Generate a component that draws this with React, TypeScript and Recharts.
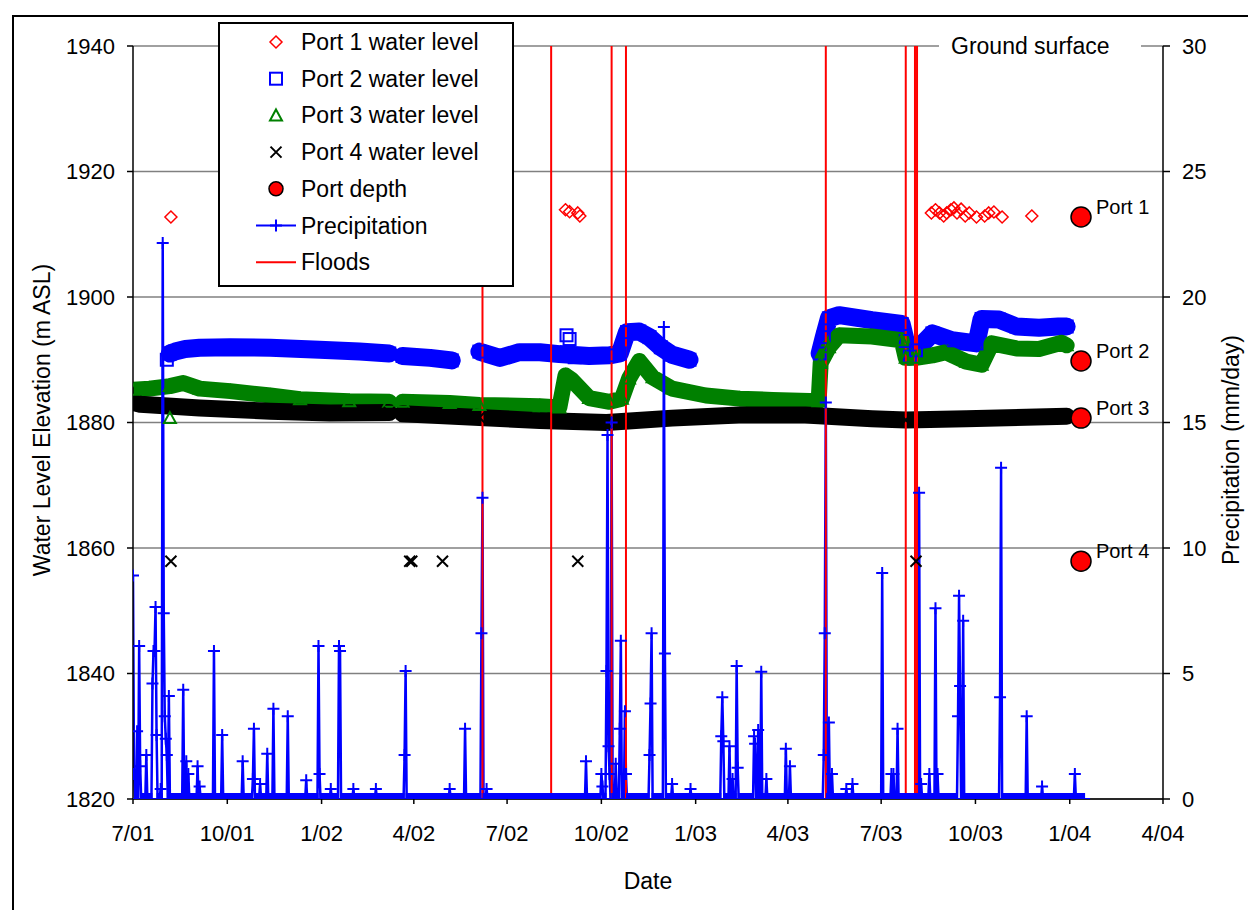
import React from 'react';
import { ComposedChart, Line, Scatter, XAxis, YAxis, CartesianGrid, ReferenceLine } from 'recharts';

// x values are days since 1 July 2001
const TICK_LABELS = ['7/01', '10/01', '1/02', '4/02', '7/02', '10/02', '1/03', '4/03', '7/03', '10/03', '1/04', '4/04'];
const TICK_DAYS = [0, 92, 184, 274, 365, 457, 549, 639, 730, 822, 914, 1005];
const ELEV_TICKS = [1820, 1840, 1860, 1880, 1900, 1920, 1940];
const PRECIP_TICKS = [0, 5, 10, 15, 20, 25, 30];

// Port 1 water level (m ASL), scattered readings
const PORT1_DAYS = [37, 422, 426, 434, 436, 779, 783, 787, 791, 794, 798, 801, 804, 808, 812, 816, 823, 831, 835, 840, 848, 877];
const PORT1_LEVEL = [1912.75, 1913.9, 1913.6, 1913.4, 1912.9, 1913.4, 1913.9, 1913.4, 1912.9, 1913.4, 1913.9, 1914.2, 1913.4, 1914.0, 1912.9, 1913.4, 1912.75, 1912.9, 1913.4, 1913.55, 1912.75, 1912.9];

// Port 2 water level, null = gap in the record
const PORT2_DAYS = [36, 41, 51, 65, 95, 134, 182, 221, 250, 256, 263, 290, 311, 325, 338, 358, 377, 397, 416, 445, 465, 475, 482, 494, 504, 515, 526, 543, 600, 670, 674, 679, 689, 721, 750, 754, 758, 764, 780, 799, 823, 828, 845, 862, 884, 903, 911];
const PORT2_LEVEL = [1891.0, 1891.3, 1891.7, 1891.9, 1892.0, 1891.9, 1891.6, 1891.3, 1891.0, null, 1890.6, 1890.3, 1889.9, null, 1891.3, 1890.3, 1891.2, 1891.2, 1890.9, 1890.6, 1890.7, 1891.0, 1894.4, 1894.5, 1893.6, 1892.0, 1890.8, 1890.0, null, 1891.0, 1893.6, 1896.6, 1897.1, 1896.3, 1895.7, 1893.0, 1890.5, 1891.5, 1894.2, 1893.1, 1892.6, 1896.5, 1896.4, 1895.3, 1895.1, 1895.3, 1895.3];
const PORT2_SPOT_DAYS = [33, 423, 426, 431];
const PORT2_SPOT_LEVEL = [1890.0, 1893.9, 1893.3, 1890.4];

// Port 3 water level
const PORT3_DAYS = [0, 16, 36, 49, 65, 95, 134, 163, 211, 250, 256, 263, 309, 338, 397, 416, 422, 428, 445, 465, 477, 484, 494, 507, 526, 559, 592, 624, 669, 671, 679, 689, 721, 750, 754, 764, 780, 793, 813, 828, 838, 862, 884, 906, 911];
const PORT3_LEVEL = [1885.2, 1885.4, 1885.8, 1886.3, 1885.4, 1885.0, 1884.3, 1883.7, 1883.4, 1883.3, null, 1883.3, 1883.1, 1882.8, 1882.6, 1882.4, 1887.5, 1886.8, 1883.9, 1883.3, 1883.8, 1887.0, 1889.8, 1887.2, 1885.4, 1884.3, 1883.8, 1883.6, 1883.4, 1889.5, 1892.0, 1893.9, 1893.7, 1893.1, 1890.3, 1890.3, 1890.7, 1891.2, 1889.7, 1889.2, 1892.6, 1891.8, 1891.7, 1892.7, 1892.3];
const PORT3_SPOT_DAYS = [36];
const PORT3_SPOT_LEVEL = [1880.7];

// Port 4 water level
const PORT4_DAYS = [0, 7, 65, 134, 192, 250, 256, 263, 338, 397, 462, 526, 591, 656, 721, 754, 813, 911];
const PORT4_LEVEL = [1883.2, 1882.9, 1882.3, 1881.8, 1881.5, 1881.6, null, 1881.4, 1880.8, 1880.3, 1880.0, 1880.7, 1881.2, 1881.2, 1880.6, 1880.4, 1880.6, 1881.0];
const PORT4_SPOT_DAYS = [37, 270, 272, 302, 434, 764];
const PORT4_SPOT_LEVEL = [1857.9, 1857.9, 1857.9, 1857.9, 1857.9, 1857.9];

// Port depths
const PORT_NAMES = ['Port 1', 'Port 2', 'Port 3', 'Port 4'];
const PORT_DEPTH = [1912.75, 1889.8, 1880.7, 1857.9];
const PORT_DEPTH_DAY = 925;

// Daily precipitation (mm/day): days with rain; every other day of the record is 0
const RAIN_DAYS = [0, 1, 4, 6, 7, 13, 19, 20, 21, 22, 23, 27, 29, 30, 31, 32, 33, 35, 49, 52, 54, 63, 65, 79, 87, 107, 117, 118, 124, 131, 137, 151, 169, 181, 182, 193, 201, 202, 215, 237, 265, 266, 309, 324, 340, 341, 345, 442, 457, 458, 462, 463, 464, 465, 467, 471, 475, 476, 480, 481, 504, 505, 506, 518, 519, 526, 544, 574, 575, 576, 582, 585, 589, 590, 606, 607, 610, 613, 618, 637, 641, 674, 675, 676, 679, 682, 696, 702, 731, 740, 742, 746, 767, 769, 777, 783, 785, 805, 806, 807, 810, 846, 847, 872, 887, 919];
const RAIN_MM = [8.9, 1.0, 2.7, 6.1, 1.3, 1.75, 4.6, 5.9, 5.9, 7.65, 2.55, 0.4, 22.15, 7.4, 3.3, 2.4, 1.75, 4.1, 4.35, 1.5, 1.0, 1.3, 0.5, 5.9, 2.55, 1.5, 0.8, 2.8, 0.6, 1.8, 3.6, 3.3, 0.75, 6.1, 1.0, 0.4, 6.1, 5.9, 0.4, 0.4, 1.75, 5.1, 0.4, 2.8, 6.6, 12.0, 0.4, 1.5, 1.0, 0.5, 5.1, 14.5, 2.1, 1.0, 15.0, 1.4, 2.8, 6.3, 3.5, 1.0, 1.75, 3.8, 6.6, 18.8, 5.8, 0.6, 0.4, 2.5, 4.05, 2.3, 2.1, 0.8, 5.3, 1.25, 2.5, 2.2, 2.75, 5.07, 0.8, 2.0, 1.3, 1.75, 6.6, 15.8, 3.05, 1.0, 0.4, 0.6, 9.0, 1.0, 1.0, 2.8, 12.2, 0.6, 1.0, 7.6, 1.0, 3.3, 8.1, 4.5, 7.1, 4.05, 13.2, 3.3, 0.5, 1.0];
const PRECIP_LAST_DAY = 928;

// Flood dates
const FLOOD_DAYS = [341, 408, 467, 481, 676, 754, 763, 765];

const FONT = '"Liberation Sans", Arial, sans-serif';
const BLUE = '#0000FF';
const GREEN = '#008000';
const RED = '#FF0000';

const toRows = (days: number[], levels: (number | null)[]) => days.map((d, i) => ({ day: d, level: levels[i] }));

const port1Data = toRows(PORT1_DAYS, PORT1_LEVEL);
const port2Data = toRows(PORT2_DAYS, PORT2_LEVEL);
const port2Spots = toRows(PORT2_SPOT_DAYS, PORT2_SPOT_LEVEL);
const port3Data = toRows(PORT3_DAYS, PORT3_LEVEL);
const port3Spots = toRows(PORT3_SPOT_DAYS, PORT3_SPOT_LEVEL);
const port4Data = toRows(PORT4_DAYS, PORT4_LEVEL);
const port4Spots = toRows(PORT4_SPOT_DAYS, PORT4_SPOT_LEVEL);
const depthData = PORT_NAMES.map((name, i) => ({ day: PORT_DEPTH_DAY, level: PORT_DEPTH[i], name }));
const precipData = [];
for (let d = 0; d <= PRECIP_LAST_DAY; d++) {
    const i = RAIN_DAYS.indexOf(d);
    precipData.push({ day: d, mm: i >= 0 ? RAIN_MM[i] : 0 });
}

// marker shapes
const Diamond = ({ cx, cy }: any) => (
    <path d={`M${cx},${cy - 6}L${cx + 6},${cy}L${cx},${cy + 6}L${cx - 6},${cy}Z`} fill="none" stroke={RED} strokeWidth={1.5} />
);
const Square = ({ cx, cy }: any) => (
    <rect x={cx - 6} y={cy - 6} width={12} height={12} fill="none" stroke={BLUE} strokeWidth={2} />
);
const Triangle = ({ cx, cy }: any) => (
    <path d={`M${cx},${cy - 6}L${cx + 6},${cy + 5}L${cx - 6},${cy + 5}Z`} fill="none" stroke={GREEN} strokeWidth={2} />
);
const Cross = ({ cx, cy }: any) => (
    <path d={`M${cx - 5.5},${cy - 5.5}L${cx + 5.5},${cy + 5.5}M${cx - 5.5},${cy + 5.5}L${cx + 5.5},${cy - 5.5}`} stroke="#000" strokeWidth={2} />
);
const Plus = ({ cx, cy }: any) => (
    <path d={`M${cx - 6},${cy}L${cx + 6},${cy}M${cx},${cy - 6}L${cx},${cy + 6}`} stroke={BLUE} strokeWidth={2} />
);
const Dot = ({ cx, cy }: any) => <circle cx={cx} cy={cy} r={10} fill={RED} stroke="#000" strokeWidth={1.5} />;

const dotWith = (Shape: any) => (p: any) =>
    p.cx == null || p.cy == null || p.value == null
        ? <g key={`e-${p.index}`} />
        : <g key={`m-${p.index}`}><Shape cx={p.cx} cy={p.cy} /></g>;

const DepthShape = (p: any) => (
    <g>
        <Dot cx={p.cx} cy={p.cy} />
        <text x={p.cx + 15} y={p.cy - 3} fontSize={20} fontFamily={FONT} fill="#000">{p.payload.name}</text>
    </g>
);

const GroundLabel = (p: any) => {
    const vb = p.viewBox;
    const right = vb.x + vb.width;
    return (
        <g>
            <rect x={right - 224} y={vb.y - 12} width={202} height={24} fill="#fff" />
            <text x={right - 212} y={vb.y + 8} fontSize={23} fontFamily={FONT} fill="#000">Ground surface</text>
        </g>
    );
};

const LEGEND_ROWS = [
    { label: 'Port 1 water level', Shape: Diamond },
    { label: 'Port 2 water level', Shape: Square },
    { label: 'Port 3 water level', Shape: Triangle },
    { label: 'Port 4 water level', Shape: Cross },
    { label: 'Port depth', Shape: Dot },
    { label: 'Precipitation', Shape: Plus, line: BLUE },
    { label: 'Floods', line: RED },
];

const ChartLegend = () => (
    <svg width={296} height={265} style={{ position: 'absolute', left: 218, top: 22 }}>
        <rect x={1} y={1} width={294} height={263} fill="#fff" stroke="#000" strokeWidth={2} />
        {LEGEND_ROWS.map((r, i) => {
            const cy = 20 + i * 36.7;
            return (
                <g key={r.label}>
                    {r.line && <line x1={38} x2={78} y1={cy} y2={cy} stroke={r.line} strokeWidth={2} />}
                    {r.Shape && (r.Shape === Dot
                        ? <circle cx={58} cy={cy} r={7} fill={RED} stroke="#000" strokeWidth={1.5} />
                        : <r.Shape cx={58} cy={cy} />)}
                    <text x={83} y={cy + 8} fontSize={23} fontFamily={FONT} fill="#000">{r.label}</text>
                </g>
            );
        })}
    </svg>
);

export default function App() {
    const tick = { fontSize: 22, fill: '#000', fontFamily: FONT };
    return (
        <div style={{ position: 'absolute', left: 0, top: 0, width: 1248, height: 910, background: '#fff', overflow: 'hidden', fontFamily: FONT }}>
            <div style={{ position: 'absolute', left: 12, top: 15, width: 1300, height: 1000, border: '2px solid #000' }} />
            <div style={{ position: 'absolute', left: 0, top: 0 }}>
                <ComposedChart width={1248} height={910} margin={{ top: 46, right: 15, bottom: 61, left: 63 }}>
                    <CartesianGrid yAxisId="elev" vertical={false} stroke="#808080" strokeWidth={1.5} />
                    <XAxis
                        dataKey="day"
                        type="number"
                        domain={[0, 1005]}
                        ticks={TICK_DAYS}
                        interval={0}
                        tickFormatter={(v: number) => TICK_LABELS[TICK_DAYS.indexOf(v)]}
                        tick={tick}
                        tickSize={5}
                        tickMargin={21}
                        height={50}
                        stroke="#000"
                        strokeWidth={1.5}
                        allowDataOverflow
                    />
                    <YAxis
                        yAxisId="elev"
                        type="number"
                        domain={[1820, 1940]}
                        ticks={ELEV_TICKS}
                        interval={0}
                        tick={tick}
                        tickSize={6}
                        tickMargin={12}
                        width={70}
                        stroke="#000"
                        strokeWidth={1.5}
                        allowDataOverflow
                    />
                    <YAxis
                        yAxisId="precip"
                        orientation="right"
                        type="number"
                        domain={[0, 30]}
                        ticks={PRECIP_TICKS}
                        interval={0}
                        tick={tick}
                        tickSize={7}
                        tickMargin={12}
                        width={70}
                        stroke="#000"
                        strokeWidth={1.5}
                        allowDataOverflow
                    />
                    <ReferenceLine yAxisId="elev" y={1940} stroke="none" label={GroundLabel} />
                    <Scatter yAxisId="elev" data={port1Data} dataKey="level" shape={Diamond} isAnimationActive={false} />
                    <Line yAxisId="elev" data={port2Data} dataKey="level" stroke={BLUE} strokeWidth={18} strokeLinejoin="round" strokeLinecap="round" dot={dotWith(Square)} activeDot={false} isAnimationActive={false} />
                    <Scatter yAxisId="elev" data={port2Spots} dataKey="level" shape={Square} isAnimationActive={false} />
                    <Line yAxisId="elev" data={port3Data} dataKey="level" stroke={GREEN} strokeWidth={16} strokeLinejoin="round" strokeLinecap="round" dot={dotWith(Triangle)} activeDot={false} isAnimationActive={false} />
                    <Scatter yAxisId="elev" data={port3Spots} dataKey="level" shape={Triangle} isAnimationActive={false} />
                    <Line yAxisId="elev" data={port4Data} dataKey="level" stroke="#000" strokeWidth={17} strokeLinejoin="round" strokeLinecap="round" dot={dotWith(Cross)} activeDot={false} isAnimationActive={false} />
                    <Scatter yAxisId="elev" data={port4Spots} dataKey="level" shape={Cross} isAnimationActive={false} />
                    <Line yAxisId="precip" data={precipData} dataKey="mm" stroke={BLUE} strokeWidth={2.5} dot={dotWith(Plus)} activeDot={false} isAnimationActive={false} />
                    {FLOOD_DAYS.map((d) => (
                        <ReferenceLine key={d} yAxisId="elev" x={d} stroke={RED} strokeWidth={2} />
                    ))}
                    <Scatter yAxisId="elev" data={depthData} dataKey="level" shape={DepthShape} isAnimationActive={false} />
                </ComposedChart>
            </div>
            <ChartLegend />
            <div style={{ position: 'absolute', left: 42, top: 420, transform: 'translate(-50%, -50%) rotate(-90deg)', whiteSpace: 'nowrap', fontSize: 23 }}>
                Water Level Elevation (m ASL)
            </div>
            <div style={{ position: 'absolute', left: 1231, top: 450, transform: 'translate(-50%, -50%) rotate(-90deg)', whiteSpace: 'nowrap', fontSize: 23 }}>
                Precipitation (mm/day)
            </div>
            <div style={{ position: 'absolute', left: 648, top: 881, transform: 'translate(-50%, -50%)', whiteSpace: 'nowrap', fontSize: 23 }}>
                Date
            </div>
        </div>
    );
}
